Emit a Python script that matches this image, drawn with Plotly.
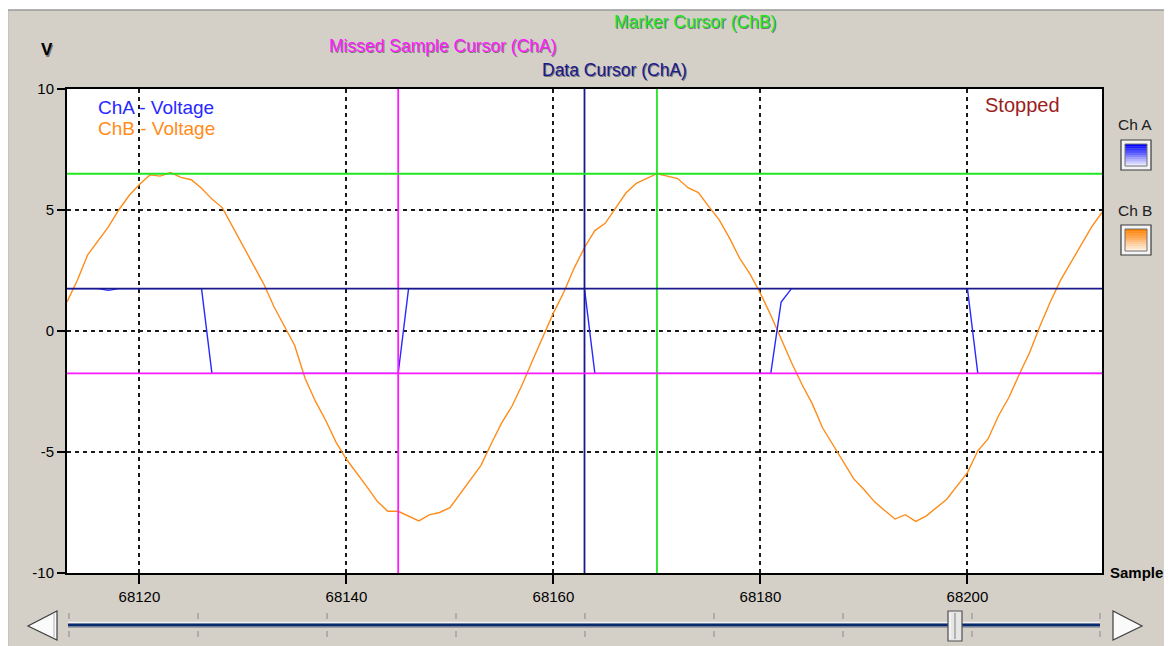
import plotly.graph_objects as go

# ---------------- data ----------------
sample_start = 68113
sample_end = 68213
samples = list(range(sample_start, sample_end + 1))

cha_volts = [
    1.75, 1.75, 1.75, 1.75, 1.68, 1.75, 1.75, 1.75, 1.75, 1.75,
    1.75, 1.75, 1.75, 1.75, -1.75, -1.75, -1.75, -1.75, -1.75, -1.75,
    -1.75, -1.75, -1.75, -1.75, -1.75, -1.75, -1.75, -1.75, -1.75, -1.75,
    -1.75, -1.75, -1.75, 1.75, 1.75, 1.75, 1.75, 1.75, 1.75, 1.75,
    1.75, 1.75, 1.75, 1.75, 1.75, 1.75, 1.75, 1.75, 1.75, 1.75,
    1.75, -1.75, -1.75, -1.75, -1.75, -1.75, -1.75, -1.75, -1.75, -1.75,
    -1.75, -1.75, -1.75, -1.75, -1.75, -1.75, -1.75, -1.75, -1.75, 1.2,
    1.75, 1.75, 1.75, 1.75, 1.75, 1.75, 1.75, 1.75, 1.75, 1.75,
    1.75, 1.75, 1.75, 1.75, 1.75, 1.75, 1.75, 1.75, -1.75, -1.75,
    -1.75, -1.75, -1.75, -1.75, -1.75, -1.75, -1.75, -1.75, -1.75, -1.75,
    -1.75,
]

chb_volts = [
    1.2, 2.1, 3.15, 3.7, 4.3, 5.0, 5.6, 6.05, 6.45, 6.4,
    6.55, 6.35, 6.25, 5.9, 5.45, 5.1, 4.3, 3.5, 2.75, 1.95,
    1.0, 0.2, -0.6, -1.95, -2.9, -3.7, -4.6, -5.3, -5.85, -6.45,
    -7.05, -7.45, -7.45, -7.65, -7.85, -7.6, -7.5, -7.3, -6.7, -6.15,
    -5.55, -4.65, -3.8, -3.1, -2.2, -1.2, -0.25, 0.75, 1.6, 2.6,
    3.45, 4.15, 4.45, 5.05, 5.7, 6.1, 6.3, 6.5, 6.4, 6.3,
    5.92, 5.72, 5.15, 4.6, 3.85, 3.0, 2.35, 1.55, 0.65, -0.35,
    -1.3, -2.2, -3.0, -4.0, -4.7, -5.35, -6.1, -6.55, -7.05, -7.42,
    -7.77, -7.59, -7.87, -7.65, -7.3, -6.95, -6.4, -5.85, -4.95, -4.45,
    -3.5, -2.75, -1.8, -0.9, 0.2, 1.2, 2.1, 2.85, 3.6, 4.3,
    4.9,
]

x_ticks = [68120, 68140, 68160, 68180, 68200]
y_ticks = [-10, -5, 0, 5, 10]

# cursor positions (sample / volts)
missed_cursor_sample = 68145
missed_cursor_volts = -1.75
data_cursor_sample = 68163
data_cursor_volts = 1.75
marker_cursor_sample = 68170
marker_cursor_volts = 6.5

# ---------------- layout geometry ----------------
# the page body has an 8px margin, so the figure sits at page (8, 8)
OX, OY = 8, 8
W, H = 1172 - OX, 646 - OY
L, R, T, B = 67, 1102, 89, 573          # plot area in page pixels
PW, PH = R - L, B - T


def px(x):
    return (x - L) / PW


def py(y):
    return (B - y) / PH


FONT = "Liberation Sans, Arial, sans-serif"
PANEL = "#D4D0C8"
NAVY = "#1A1A8C"
MAGENTA = "#FF1AFF"
GREEN = "#22E622"
BLUE = "#2828FF"
ORANGE = "#FF8C1A"

fig = go.Figure()
fig.add_trace(go.Scatter(x=samples, y=chb_volts, mode="lines",
                         line=dict(color=ORANGE, width=1.4), name="ChB - Voltage"))
fig.add_trace(go.Scatter(x=samples, y=cha_volts, mode="lines",
                         line=dict(color=BLUE, width=1.4), name="ChA - Voltage"))

shapes = []
# cursors
for xv, col in [(missed_cursor_sample, MAGENTA), (data_cursor_sample, NAVY), (marker_cursor_sample, GREEN)]:
    shapes.append(dict(type="line", xref="x", yref="paper", x0=xv, x1=xv, y0=0, y1=1,
                       line=dict(color=col, width=1.8), layer="above"))
for yv, col in [(missed_cursor_volts, MAGENTA), (data_cursor_volts, NAVY), (marker_cursor_volts, GREEN)]:
    shapes.append(dict(type="line", xref="paper", yref="y", x0=0, x1=1, y0=yv, y1=yv,
                       line=dict(color=col, width=1.9), layer="above"))


def rect(x0, y0, x1, y1, fill, line=None, lw=0):
    return dict(type="rect", xref="paper", yref="paper",
                x0=px(x0), x1=px(x1), y0=py(y1), y1=py(y0),
                fillcolor=fill, line=dict(color=line or fill, width=lw), layer="above")


def seg(x0, y0, x1, y1, col, w=1):
    return dict(type="line", xref="paper", yref="paper",
                x0=px(x0), x1=px(x1), y0=py(y0), y1=py(y1),
                line=dict(color=col, width=w), layer="above")


def path(pts, fill, col, w=1):
    d = "M " + " L ".join(f"{px(a):.5f},{py(b):.5f}" for a, b in pts) + " Z"
    return dict(type="path", xref="paper", yref="paper", path=d,
                fillcolor=fill, line=dict(color=col, width=w), layer="above")


# outer white margins + panel border (page coords)
shapes.append(rect(0, 0, 1180, 10, "white"))
shapes.append(rect(0, 0, 7, 660, "white"))
shapes.append(rect(1168.5, 0, 1180, 660, "white"))
shapes.append(seg(7, 10, 1168, 10, "#9A9A9A", 1.5))
shapes.append(seg(7.5, 10, 7.5, 660, "#9A9A9A", 1.5))
shapes.append(seg(1168, 10, 1168, 660, "#B8B8B8", 1.5))


# channel buttons with vertical gradient
def button(y0, top_rgb, bot_rgb):
    out = [rect(1121, y0, 1151, y0 + 30, "#F4F4F4", "#3A3A3A", 1.2)]
    n = 10
    x0, x1, iy0, iy1 = 1125, 1147, y0 + 4, y0 + 26
    step = (iy1 - iy0) / n
    for i in range(n):
        t = i / (n - 1)
        c = tuple(int(top_rgb[k] + (bot_rgb[k] - top_rgb[k]) * t) for k in range(3))
        out.append(rect(x0, iy0 + i * step, x1, iy0 + (i + 1) * step + 0.3,
                        f"rgb({c[0]},{c[1]},{c[2]})"))
    out.append(dict(type="rect", xref="paper", yref="paper", x0=px(x0), x1=px(x1),
                    y0=py(iy1), y1=py(iy0), fillcolor="rgba(0,0,0,0)",
                    line=dict(color="#707070", width=1), layer="above"))
    return out


shapes += button(140, (0, 0, 255), (235, 235, 255))
shapes += button(225, (255, 128, 0), (255, 240, 225))

# slider
TY = 625
shapes.append(seg(68, TY - 2.5, 1100, TY - 2.5, "#F2F2F2", 1.5))
shapes.append(seg(68, TY + 2.5, 1100, TY + 2.5, "#A0A0A0", 1.2))
shapes.append(seg(68, TY, 1100, TY, "#0A2A6E", 3))
for tx in [69, 198, 327, 456, 585, 714, 843, 972, 1100]:
    shapes.append(seg(tx, 613, tx, 619, "#8A8A8A", 1))
    shapes.append(seg(tx, 631, tx, 637, "#8A8A8A", 1))
# arrows
shapes.append(path([(57, 611), (57, 640), (28, 626)], "#FAFAFA", "#404040", 1.2))
shapes.append(seg(54, 614, 54, 637, "#B0B0B0", 1))
shapes.append(path([(1113, 611), (1113, 640), (1142, 626)], "#FAFAFA", "#404040", 1.2))
# thumb
shapes.append(rect(948, 611, 962, 641, "#E6E6E6", "#505050", 1.2))
shapes.append(seg(955, 613, 955, 639, "#808080", 1))
shapes.append(seg(950, 613, 950, 639, "#FFFFFF", 1))

annotations = []


def text(x, y, s, size, color, bold=False, shadow=False, xanchor="center"):
    if bold:
        s = f"<b>{s}</b>"
    if shadow:
        annotations.append(dict(xref="paper", yref="paper", x=px(x), y=py(y), text=s,
                                showarrow=False, xanchor=xanchor, yanchor="middle",
                                xshift=1.2, yshift=-1.2,
                                font=dict(family=FONT, size=size, color="rgba(40,40,40,0.55)")))
    annotations.append(dict(xref="paper", yref="paper", x=px(x), y=py(y), text=s,
                            showarrow=False, xanchor=xanchor, yanchor="middle",
                            font=dict(family=FONT, size=size, color=color)))


text(695, 22, "Marker Cursor (ChB)", 17.5, GREEN, shadow=True)
text(443, 46, "Missed Sample Cursor (ChA)", 17.5, MAGENTA, shadow=True)
text(614, 70, "Data Cursor (ChA)", 17.5, NAVY, shadow=True)
text(47, 50, "V", 17, "black", bold=True, shadow=True)
text(1136, 572, "Sample", 15, "black", bold=True)
text(96, 107, "ChA - Voltage", 19, BLUE, xanchor="left")
text(96, 129, "ChB - Voltage", 19, ORANGE, xanchor="left")
text(1022, 105, "Stopped", 20, "#9A1E1E")
text(1135, 124, "Ch A", 15.5, "#202020")
text(1135, 210, "Ch B", 15.5, "#202020")

axis_common = dict(
    showline=True, linecolor="black", linewidth=2, mirror=True,
    showgrid=True, gridcolor="#1A1A1A", gridwidth=1.5, griddash="4px,4px",
    zeroline=False, ticks="outside", tickcolor="black", tickwidth=1.5,
    tickfont=dict(family=FONT, size=15, color="black"),
)

fig.update_layout(
    width=W, height=H,
    margin=dict(l=L - OX, r=W - (R - OX), t=T - OY, b=H - (B - OY), pad=0),
    paper_bgcolor=PANEL, plot_bgcolor="white",
    showlegend=False,
    xaxis=dict(range=[sample_start, sample_end], tickvals=x_ticks,
               ticktext=[str(v) for v in x_ticks], ticklen=9, **axis_common),
    yaxis=dict(range=[-10, 10], tickvals=y_ticks,
               ticktext=[str(v) for v in y_ticks], ticklen=8, **axis_common),
    shapes=shapes,
    annotations=annotations,
)

fig.write_html("out.html")
